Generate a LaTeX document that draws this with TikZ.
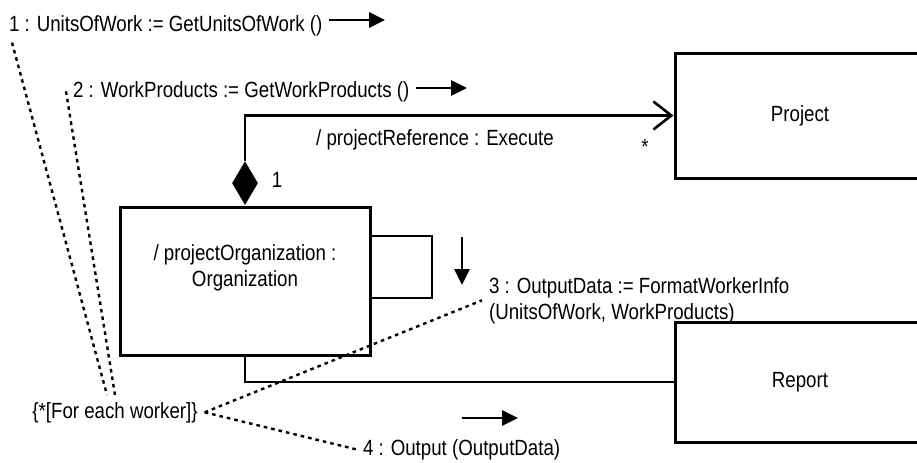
\documentclass[tikz,border=0pt]{standalone}
\usepackage{fontspec}
\setmainfont[FakeStretch=0.85]{Liberation Sans}
\usetikzlibrary{arrows.meta,shapes.geometric}

\begin{document}
\begin{tikzpicture}[x=0.5pt,y=-0.5pt,>=stealth,
    every node/.style={font=\fontsize{11}{13}\selectfont},
    objbox/.style={draw,line width=1.5pt,inner sep=0pt},
    link/.style={line width=1.3pt},
    msg/.style={line width=1.4pt,-{Triangle[length=8pt,width=7.5pt]}},
    note/.style={line width=1.2pt,dash pattern=on 1.8pt off 2pt}]
  \clip (0,0) rectangle (917,462);
  % objects
  \node[objbox,minimum width=125pt,minimum height=74pt,align=center,text depth=15pt] (org) at (245,281) {/ projectOrganization :\\Organization};
  \node[objbox,minimum width=125pt,minimum height=62.5pt] (project) at (800,115.5) {Project};
  \node[objbox,minimum width=125pt,minimum height=60pt] (report) at (800,382) {Report};
  \node[diamond,fill,inner sep=0pt,minimum width=13pt,minimum height=22pt,anchor=south] (comp) at (org.north) {};
  % links
  \draw[link,-{Straight Barb[length=9pt,width=14pt]}] (comp.north) |- (project.west);
  \draw[link] (org.east |- 0,236) -| (432,298) -- (org.east |- 0,298);
  \draw[link] (org.south) |- (report.west);
  \node[anchor=base] (role) at (435,145) {/ projectReference : Execute};
  \node (multOne) at (277,180) {1};
  \node (multMany) at (645,147) {*};
  % messages
  \node[anchor=base west] (msgOne) at (2,31) {1 : UnitsOfWork := GetUnitsOfWork ()};
  \node[anchor=base west] (msgTwo) at (66,97) {2 : WorkProducts := GetWorkProducts ()};
  \node[anchor=north west,align=left] (msgThree) at (482,270) {3 : OutputData := FormatWorkerInfo\\(UnitsOfWork, WorkProducts)};
  \node[anchor=base west] (msgFour) at (356,455) {4 : Output (OutputData)};
  \node[anchor=base] (guard) at (115,418) {\{*[For each worker]\}};
  \coordinate (oneHead) at (385,20);
  \coordinate (twoHead) at (467,88);
  \coordinate (threeTail) at (462,237);
  \coordinate (threeHead) at (462,285);
  \coordinate (fourTail) at (462,418);
  \coordinate (fourHead) at (518,418);
  \draw[msg] (msgOne.east |- oneHead) -- (oneHead);
  \draw[msg] (msgTwo.east |- twoHead) -- (twoHead);
  \draw[msg] (threeTail) -- (threeHead);
  \draw[msg] (fourTail) -- (fourHead);
  % constraint
  \draw[note] ([xshift=5pt]msgOne.south west) -- ([xshift=-4pt]guard.north);
  \draw[note] (msgTwo.west) -- (guard.north);
  \draw[note] (guard.east) -- (msgThree.west);
  \draw[note] (guard.east) -- (msgFour.west);
\end{tikzpicture}
\end{document}
